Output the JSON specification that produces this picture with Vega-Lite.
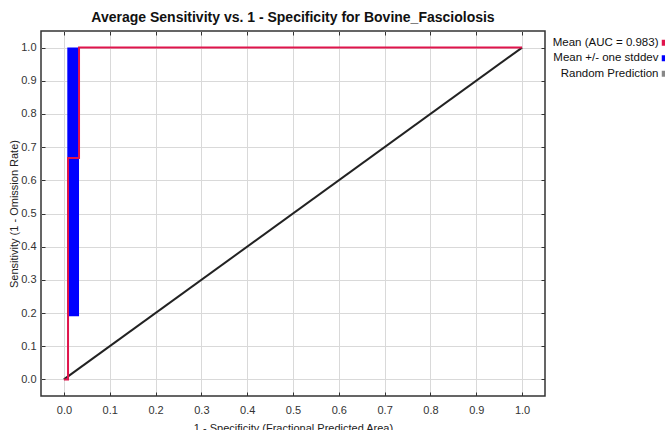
{
  "$schema": "https://vega.github.io/schema/vega-lite/v6.json",
  "width": 504,
  "height": 365,
  "autosize": {"type": "none"},
  "padding": {"left": 41, "top": 31, "right": 120, "bottom": 34},
  "background": "white",
  "title": {
    "text": "Average Sensitivity vs. 1 - Specificity for Bovine_Fasciolosis",
    "font": "Liberation Sans",
    "fontSize": 14,
    "fontWeight": "bold",
    "color": "#111111",
    "anchor": "middle",
    "offset": 6
  },
  "config": {
    "font": "Liberation Sans",
    "view": {"stroke": "#333333", "strokeWidth": 1.5},
    "axis": {
      "labelFont": "Liberation Sans",
      "labelFontSize": 11,
      "labelColor": "#333333",
      "titleFont": "Liberation Sans",
      "titleFontSize": 11,
      "titleFontWeight": "normal",
      "titleColor": "#222222",
      "gridColor": "#d9d9d9",
      "gridWidth": 1,
      "tickColor": "#333333",
      "tickSize": -4,
      "tickWidth": 1,
      "domain": false
    },
    "legend": {
      "orient": "none",
      "legendX": 618,
      "legendY": 6,
      "title": null,
      "labelFont": "Liberation Sans",
      "labelFontSize": 11.5,
      "labelColor": "#111111",
      "labelAlign": "right",
      "labelOffset": -12,
      "symbolType": "square",
      "symbolSize": 36,
      "symbolStrokeWidth": 0,
      "rowPadding": 2.5
    }
  },
  "datasets": {
    "band": [
      {"x": 0.0074, "x2": 0.033, "lo": 0.19, "hi": 1.0, "series": "Mean +/- one stddev"}
    ],
    "random": [
      {"x": 0, "y": 0, "series": "Random Prediction"},
      {"x": 1, "y": 1, "series": "Random Prediction"}
    ],
    "mean": [
      {"o": 1, "x": 0, "y": 0, "series": "Mean (AUC = 0.983)"},
      {"o": 2, "x": 0.009, "y": 0, "series": "Mean (AUC = 0.983)"},
      {"o": 3, "x": 0.009, "y": 0.667, "series": "Mean (AUC = 0.983)"},
      {"o": 4, "x": 0.033, "y": 0.667, "series": "Mean (AUC = 0.983)"},
      {"o": 5, "x": 0.033, "y": 1.0, "series": "Mean (AUC = 0.983)"},
      {"o": 6, "x": 1.0, "y": 1.0, "series": "Mean (AUC = 0.983)"}
    ]
  },
  "resolve": {"axis": {"x": "independent", "y": "independent"}},
  "layer": [
    {
      "data": {"name": "band"},
      "mark": {"type": "rect"},
      "encoding": {
        "x": {
          "field": "x", "type": "quantitative",
          "scale": {"domain": [-0.05, 1.05], "nice": false, "zero": false},
          "axis": {
            "orient": "bottom",
            "values": [0, 0.1, 0.2, 0.3, 0.4, 0.5, 0.6, 0.7, 0.8, 0.9, 1.0],
            "format": ".1f",
            "labelPadding": 12,
            "title": "1 - Specificity (Fractional Predicted Area)",
            "titlePadding": 7
          }
        },
        "x2": {"field": "x2"},
        "y": {
          "field": "lo", "type": "quantitative",
          "scale": {"domain": [-0.05, 1.05], "nice": false, "zero": false},
          "axis": {
            "orient": "left",
            "values": [0, 0.1, 0.2, 0.3, 0.4, 0.5, 0.6, 0.7, 0.8, 0.9, 1.0],
            "format": ".1f",
            "labelPadding": 9,
            "title": "Sensitivity (1 - Omission Rate)",
            "titlePadding": 1
          }
        },
        "y2": {"field": "hi"},
        "color": {
          "field": "series", "type": "nominal",
          "scale": {
            "domain": ["Mean (AUC = 0.983)", "Mean +/- one stddev", "Random Prediction"],
            "range": ["#e0144c", "#0000ff", "#888888"]
          }
        }
      }
    },
    {
      "data": {"name": "random"},
      "mark": {"type": "line", "color": "#222222", "strokeWidth": 2},
      "encoding": {
        "x": {
          "field": "x", "type": "quantitative",
          "axis": {
            "orient": "top",
            "values": [0, 0.1, 0.2, 0.3, 0.4, 0.5, 0.6, 0.7, 0.8, 0.9, 1.0],
            "labels": false,
            "grid": false,
            "title": null
          }
        },
        "y": {
          "field": "y", "type": "quantitative",
          "axis": {
            "orient": "right",
            "values": [0, 0.1, 0.2, 0.3, 0.4, 0.5, 0.6, 0.7, 0.8, 0.9, 1.0],
            "labels": false,
            "grid": false,
            "title": null
          }
        }
      }
    },
    {
      "data": {"name": "mean"},
      "mark": {"type": "line", "color": "#e0144c", "strokeWidth": 2},
      "encoding": {
        "x": {"field": "x", "type": "quantitative", "axis": null},
        "y": {"field": "y", "type": "quantitative", "axis": null},
        "order": {"field": "o", "type": "quantitative"}
      }
    }
  ]
}
